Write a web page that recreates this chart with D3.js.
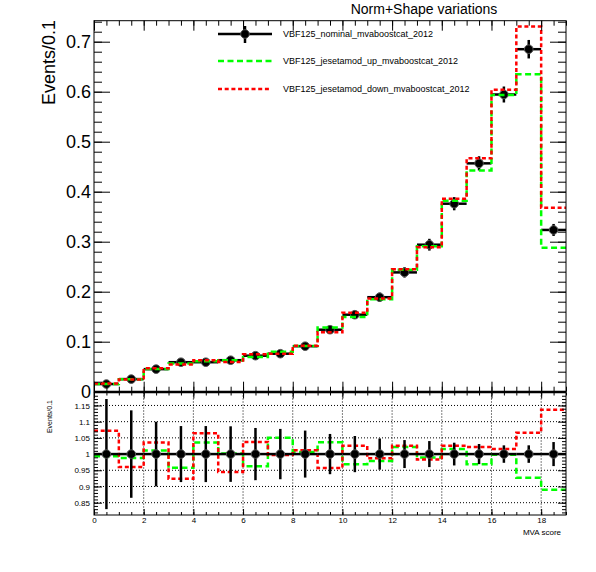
<!DOCTYPE html>
<html>
<head>
<meta charset="utf-8">
<script src="https://cdn.jsdelivr.net/npm/d3@7/dist/d3.min.js"></script>
<style>
  body { margin: 0; background: #fff; }
  svg { display: block; font-family: "Liberation Sans", Arial, Helvetica, sans-serif; }
  .axis path.domain { display: none; }
  .axis line { stroke: #000; stroke-width: 1; }
</style>
</head>
<body>
<svg width="596" height="572"></svg>
<script>
// bin edges of the MVA score histogram (19 bins)
var binEdges = [0,1,2,3,4,5,6,7,8,9,10,11,12,13,14,15,16,17,18,19];

// nominal VBF125 yields per bin, with stat. errors
var nominal    = [0.0153,0.0252,0.0451,0.0590,0.0590,0.0630,0.0720,0.0760,0.0910,0.1240,
                  0.1540,0.1890,0.2386,0.2940,0.3760,0.4567,0.5944,0.6850,0.3235];
var nominalErr = [0.0026,0.0034,0.0045,0.0051,0.0051,0.0054,0.0058,0.0059,0.0066,0.0077,
                  0.0086,0.0091,0.0103,0.0118,0.0132,0.0142,0.0160,0.0185,0.0120];
// jet energy scale (eta modified) up / down shifted yields
var jesUp      = [0.0152,0.0249,0.0456,0.0565,0.0611,0.0631,0.0693,0.0798,0.0916,0.1285,
                  0.1492,0.1850,0.2439,0.2908,0.3820,0.4425,0.5932,0.6350,0.2879];
var jesDown    = [0.0164,0.0242,0.0467,0.0545,0.0628,0.0595,0.0747,0.0758,0.0921,0.1187,
                  0.1580,0.1865,0.2448,0.2890,0.3858,0.4668,0.6039,0.7302,0.3678];

var legendLabels = ["VBF125_nominal_mvaboostcat_2012",
                    "VBF125_jesetamod_up_mvaboostcat_2012",
                    "VBF125_jesetamod_down_mvaboostcat_2012"];

var xTickLabels = [0,2,4,6,8,10,12,14,16,18];
var yTicksTop   = [0,0.1,0.2,0.3,0.4,0.5,0.6,0.7];
var yTicksRatio = [0.85,0.9,0.95,1,1.05,1.1,1.15];

var svg = d3.select("svg");
svg.append("rect").attr("width", 596).attr("height", 572).attr("fill", "#fff");

// pad geometry
var left = 94, right = 566;
var topY0 = 391.7, topY1 = 20.7;   // upper pad frame (bottom, top)
var ratY0 = 515, ratY1 = 392.5;    // lower pad frame (bottom, top)

var x = d3.scaleLinear().domain([0, 19]).range([left, right]);
var y = d3.scaleLinear().domain([0, 0.742]).range([topY0, topY1]);
var yr = d3.scaleLinear().domain([0.812, 1.19]).range([ratY0, ratY1]);

var minorX = d3.range(0, 19.01, 0.5);
var greenDash = "6,3.5", redDash = "4,2.7";

// ---------- lower pad grid ----------
var grid = svg.append("g");
grid.selectAll(".vg").data(xTickLabels.filter(function (d) { return d > 0; }))
  .enter().append("line")
  .attr("x1", function (d) { return x(d); }).attr("x2", function (d) { return x(d); })
  .attr("y1", ratY1).attr("y2", ratY0)
  .attr("stroke", "#000").attr("stroke-width", 1).attr("stroke-dasharray", "1,2");
grid.selectAll(".hg").data(yTicksRatio)
  .enter().append("line")
  .attr("x1", left).attr("x2", right)
  .attr("y1", function (d) { return yr(d); }).attr("y2", function (d) { return yr(d); })
  .attr("stroke", "#000").attr("stroke-width", 1).attr("stroke-dasharray", "1,2");

// ---------- helpers ----------
function stepLine(values, yscale) {
  var pts = values.map(function (v, i) { return [binEdges[i], v]; });
  pts.push([binEdges[binEdges.length - 1], values[values.length - 1]]);
  return d3.line()
    .x(function (d) { return x(d[0]); })
    .y(function (d) { return yscale(d[1]); })
    .curve(d3.curveStepAfter)(pts);
}

function drawPoints(g, vals, errs, yscale) {
  var pts = g.append("g");
  vals.forEach(function (v, i) {
    var cx = x((binEdges[i] + binEdges[i + 1]) / 2);
    pts.append("line")
      .attr("x1", x(binEdges[i])).attr("x2", x(binEdges[i + 1]))
      .attr("y1", yscale(v)).attr("y2", yscale(v))
      .attr("stroke", "#000").attr("stroke-width", 2.5);
    pts.append("line")
      .attr("x1", cx).attr("x2", cx)
      .attr("y1", yscale(v - errs[i])).attr("y2", yscale(v + errs[i]))
      .attr("stroke", "#000").attr("stroke-width", 2.5);
    pts.append("circle")
      .attr("cx", cx).attr("cy", yscale(v)).attr("r", 4.3)
      .attr("fill", "#000").attr("stroke", "#555").attr("stroke-width", 1);
  });
}

// ---------- upper pad ----------
var upper = svg.append("g");
drawPoints(upper, nominal, nominalErr, y);
upper.append("path").attr("d", stepLine(jesUp, y))
  .attr("fill", "none").attr("stroke", "#00ff00").attr("stroke-width", 2.5)
  .attr("stroke-dasharray", greenDash);
upper.append("path").attr("d", stepLine(jesDown, y))
  .attr("fill", "none").attr("stroke", "#ff0000").attr("stroke-width", 2.5)
  .attr("stroke-dasharray", redDash);

// ---------- lower pad (ratios to nominal) ----------
var lower = svg.append("g");
var ratioUp = jesUp.map(function (v, i) { return v / nominal[i]; });
var ratioDown = jesDown.map(function (v, i) { return v / nominal[i]; });
var ratioNom = nominal.map(function (v, i) { return v / nominal[i]; });
var ratioErr = nominalErr.map(function (e, i) { return e / nominal[i]; });

lower.append("path").attr("d", stepLine(ratioUp, yr))
  .attr("fill", "none").attr("stroke", "#00ff00").attr("stroke-width", 2.5)
  .attr("stroke-dasharray", greenDash);
lower.append("path").attr("d", stepLine(ratioDown, yr))
  .attr("fill", "none").attr("stroke", "#ff0000").attr("stroke-width", 2.5)
  .attr("stroke-dasharray", redDash);
drawPoints(lower, ratioNom, ratioErr, yr);

// ---------- axes ----------
function noLabel() { return ""; }

// upper pad x ticks (no labels)
svg.append("g").attr("class", "axis").attr("transform", "translate(0," + topY0 + ")")
  .call(d3.axisBottom(x).tickValues(minorX).tickSize(-5).tickFormat(noLabel));
svg.append("g").attr("class", "axis").attr("transform", "translate(0," + topY0 + ")")
  .call(d3.axisBottom(x).tickValues(xTickLabels).tickSize(-10).tickFormat(noLabel));
svg.append("g").attr("class", "axis").attr("transform", "translate(0," + topY1 + ")")
  .call(d3.axisTop(x).tickValues(minorX).tickSize(-5).tickFormat(noLabel));
svg.append("g").attr("class", "axis").attr("transform", "translate(0," + topY1 + ")")
  .call(d3.axisTop(x).tickValues(xTickLabels).tickSize(-10).tickFormat(noLabel));

// upper pad y ticks
var minorY = d3.range(0, 0.741, 0.02);
svg.append("g").attr("class", "axis").attr("transform", "translate(" + left + ",0)")
  .call(d3.axisLeft(y).tickValues(minorY).tickSize(-8).tickFormat(noLabel));
var yAx = svg.append("g").attr("class", "axis").attr("transform", "translate(" + left + ",0)")
  .call(d3.axisLeft(y).tickValues(yTicksTop).tickSize(-16).tickPadding(3)
    .tickFormat(function (d) { return d === 0 ? "0" : d3.format(".1f")(d); }));
yAx.selectAll("text").attr("font-size", 18).attr("fill", "#000");
svg.append("g").attr("class", "axis").attr("transform", "translate(" + right + ",0)")
  .call(d3.axisRight(y).tickValues(minorY).tickSize(-8).tickFormat(noLabel));
svg.append("g").attr("class", "axis").attr("transform", "translate(" + right + ",0)")
  .call(d3.axisRight(y).tickValues(yTicksTop).tickSize(-16).tickFormat(noLabel));

// lower pad x ticks with labels
svg.append("g").attr("class", "axis").attr("transform", "translate(0," + ratY0 + ")")
  .call(d3.axisBottom(x).tickValues(minorX).tickSize(-3).tickFormat(noLabel));
var xAx = svg.append("g").attr("class", "axis").attr("transform", "translate(0," + ratY0 + ")")
  .call(d3.axisBottom(x).tickValues(xTickLabels).tickSize(-6).tickPadding(2));
xAx.selectAll("text").attr("font-size", 8).attr("fill", "#000");
svg.append("g").attr("class", "axis").attr("transform", "translate(0," + ratY1 + ")")
  .call(d3.axisTop(x).tickValues(minorX).tickSize(-3).tickFormat(noLabel));
svg.append("g").attr("class", "axis").attr("transform", "translate(0," + ratY1 + ")")
  .call(d3.axisTop(x).tickValues(xTickLabels).tickSize(-6).tickFormat(noLabel));

// lower pad y ticks
var minorR = d3.range(0.82, 1.19, 0.01);
svg.append("g").attr("class", "axis").attr("transform", "translate(" + left + ",0)")
  .call(d3.axisLeft(yr).tickValues(minorR).tickSize(-4).tickFormat(noLabel));
var yrAx = svg.append("g").attr("class", "axis").attr("transform", "translate(" + left + ",0)")
  .call(d3.axisLeft(yr).tickValues(yTicksRatio).tickSize(-8).tickPadding(4)
    .tickFormat(function (d) { return d3.format("")(+d.toFixed(2)); }));
yrAx.selectAll("text").attr("font-size", 8).attr("fill", "#000");
svg.append("g").attr("class", "axis").attr("transform", "translate(" + right + ",0)")
  .call(d3.axisRight(yr).tickValues(minorR).tickSize(-4).tickFormat(noLabel));
svg.append("g").attr("class", "axis").attr("transform", "translate(" + right + ",0)")
  .call(d3.axisRight(yr).tickValues(yTicksRatio).tickSize(-8).tickFormat(noLabel));

// frames
svg.append("rect").attr("x", left).attr("y", topY1)
  .attr("width", right - left).attr("height", topY0 - topY1)
  .attr("fill", "none").attr("stroke", "#000").attr("stroke-width", 1);
svg.append("rect").attr("x", left).attr("y", ratY1)
  .attr("width", right - left).attr("height", ratY0 - ratY1)
  .attr("fill", "none").attr("stroke", "#000").attr("stroke-width", 1);
svg.append("line").attr("x1", left).attr("x2", right)
  .attr("y1", 392).attr("y2", 392).attr("stroke", "#000").attr("stroke-width", 2.5);

// ---------- titles ----------
svg.append("text").attr("x", 424).attr("y", 14).attr("text-anchor", "middle")
  .attr("font-size", 14).text("Norm+Shape variations");
svg.append("text").attr("transform", "translate(55,20) rotate(-90)")
  .attr("text-anchor", "end").attr("font-size", 18).text("Events/0.1");
svg.append("text").attr("transform", "translate(52,400) rotate(-90)")
  .attr("text-anchor", "end").attr("font-size", 7).text("Events/0.1");
svg.append("text").attr("x", 561).attr("y", 534.5).attr("text-anchor", "end")
  .attr("font-size", 8).text("MVA score");

// ---------- legend ----------
var leg = svg.append("g");
var legY = [34, 61, 89];
leg.append("line").attr("x1", 218).attr("x2", 272).attr("y1", legY[0]).attr("y2", legY[0])
  .attr("stroke", "#000").attr("stroke-width", 2.5);
leg.append("line").attr("x1", 245).attr("x2", 245).attr("y1", legY[0] - 8).attr("y2", legY[0] + 9)
  .attr("stroke", "#000").attr("stroke-width", 2.5);
leg.append("circle").attr("cx", 245).attr("cy", legY[0]).attr("r", 4.3)
  .attr("fill", "#000").attr("stroke", "#555").attr("stroke-width", 1);
leg.append("line").attr("x1", 218).attr("x2", 272).attr("y1", legY[1]).attr("y2", legY[1])
  .attr("stroke", "#00ff00").attr("stroke-width", 2.5).attr("stroke-dasharray", greenDash);
leg.append("line").attr("x1", 218).attr("x2", 271).attr("y1", legY[2]).attr("y2", legY[2])
  .attr("stroke", "#ff0000").attr("stroke-width", 2.5).attr("stroke-dasharray", redDash);
leg.selectAll(".lt").data(legendLabels).enter().append("text")
  .attr("x", 283).attr("y", function (d, i) { return legY[i] + 3; })
  .attr("font-size", 9).text(function (d) { return d; });
</script>
</body>
</html>
